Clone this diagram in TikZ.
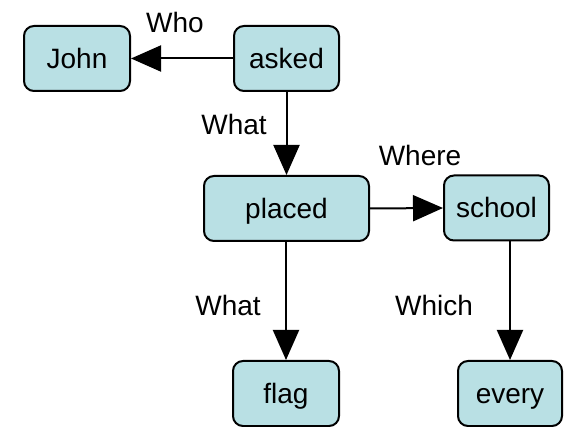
\documentclass[tikz,border=0pt]{standalone}
\usepackage{fontspec}
\setmainfont{Liberation Sans}
\usetikzlibrary{arrows.meta}
\definecolor{boxfill}{RGB}{185,224,228}
\tikzset{
  wordbox/.style={draw=black, line width=2pt, fill=boxfill, rounded corners=10pt,
    minimum height=65pt, inner sep=0pt, text height=20pt, text depth=0pt,
    font=\fontsize{28}{28}\selectfont},
  rel/.style={line width=2pt, -{Triangle[length=30pt,width=26pt]}},
  lbl/.style={anchor=base, inner sep=0pt, font=\fontsize{28}{28}\selectfont}
}
\begin{document}
\begin{tikzpicture}[x=1pt,y=-1pt]
\useasboundingbox (0,0) rectangle (570,427);
\node[wordbox, minimum width=106pt] (john) at (77,58.5) {John};
\node[wordbox, minimum width=105pt] (asked) at (286.5,58.5) {asked};
\node[wordbox, minimum width=165pt] (placed) at (286.5,208.5) {placed};
\node[wordbox, minimum width=105pt] (school) at (496.5,208) {school};
\node[wordbox, minimum width=106pt] (flag) at (286,393.5) {flag};
\node[wordbox, minimum width=104pt] (every) at (510,393.5) {every};
\draw[rel] (asked.west) -- (john.east);
\draw[rel] (asked.south) -- (placed.north);
\draw[rel] (placed.east) -- (school.west);
\draw[rel] (placed.south -| flag) -- (flag.north);
\draw[rel] (school.south -| every) -- (every.north);
\node[lbl] (who) at (175,33) {Who};
\node[lbl] (what1) at (234,135) {What};
\node[lbl] (where) at (420,166) {Where};
\node[lbl] (what2) at (228,316) {What};
\node[lbl] (which) at (434,316) {Which};
\end{tikzpicture}
\end{document}
